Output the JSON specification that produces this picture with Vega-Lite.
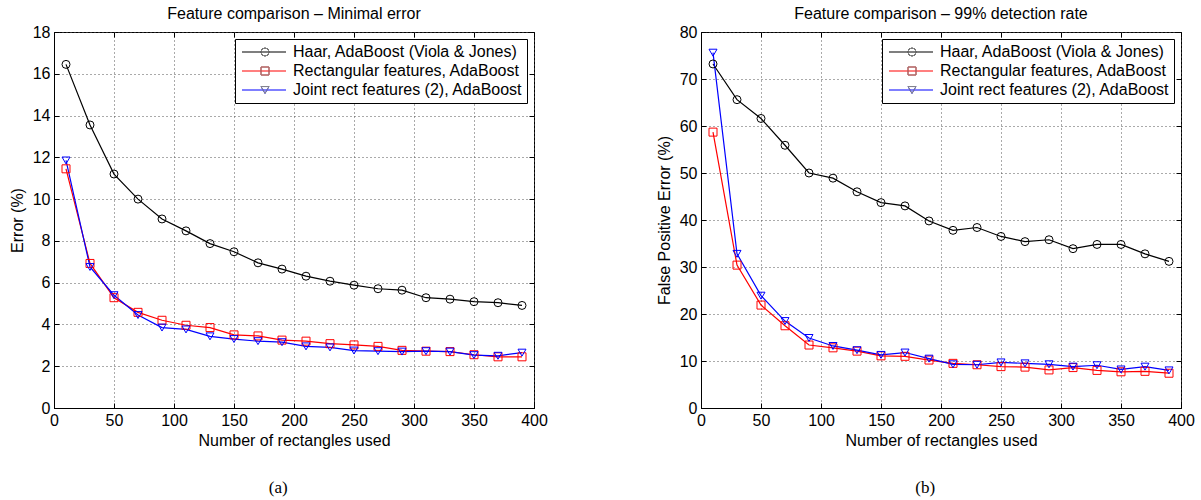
{
  "$schema": "https://vega.github.io/schema/vega-lite/v6.json",
  "padding": {"left": 8, "top": 5, "right": 5, "bottom": 5},
  "background": "white",
  "spacing": 107,
  "resolve": {"scale": {"stroke": "independent", "color": "independent", "shape": "independent"}},
  "datasets": {
    "minimal": [
      {"n": 10, "v": 16.45, "s": "Haar, AdaBoost (Viola & Jones)"},
      {"n": 30, "v": 13.55, "s": "Haar, AdaBoost (Viola & Jones)"},
      {"n": 50, "v": 11.2, "s": "Haar, AdaBoost (Viola & Jones)"},
      {"n": 70, "v": 10.0, "s": "Haar, AdaBoost (Viola & Jones)"},
      {"n": 90, "v": 9.05, "s": "Haar, AdaBoost (Viola & Jones)"},
      {"n": 110, "v": 8.48, "s": "Haar, AdaBoost (Viola & Jones)"},
      {"n": 130, "v": 7.87, "s": "Haar, AdaBoost (Viola & Jones)"},
      {"n": 150, "v": 7.48, "s": "Haar, AdaBoost (Viola & Jones)"},
      {"n": 170, "v": 6.95, "s": "Haar, AdaBoost (Viola & Jones)"},
      {"n": 190, "v": 6.65, "s": "Haar, AdaBoost (Viola & Jones)"},
      {"n": 210, "v": 6.31, "s": "Haar, AdaBoost (Viola & Jones)"},
      {"n": 230, "v": 6.07, "s": "Haar, AdaBoost (Viola & Jones)"},
      {"n": 250, "v": 5.88, "s": "Haar, AdaBoost (Viola & Jones)"},
      {"n": 270, "v": 5.71, "s": "Haar, AdaBoost (Viola & Jones)"},
      {"n": 290, "v": 5.64, "s": "Haar, AdaBoost (Viola & Jones)"},
      {"n": 310, "v": 5.28, "s": "Haar, AdaBoost (Viola & Jones)"},
      {"n": 330, "v": 5.21, "s": "Haar, AdaBoost (Viola & Jones)"},
      {"n": 350, "v": 5.09, "s": "Haar, AdaBoost (Viola & Jones)"},
      {"n": 370, "v": 5.04, "s": "Haar, AdaBoost (Viola & Jones)"},
      {"n": 390, "v": 4.91, "s": "Haar, AdaBoost (Viola & Jones)"},
      {"n": 10, "v": 11.45, "s": "Rectangular features, AdaBoost"},
      {"n": 30, "v": 6.92, "s": "Rectangular features, AdaBoost"},
      {"n": 50, "v": 5.28, "s": "Rectangular features, AdaBoost"},
      {"n": 70, "v": 4.58, "s": "Rectangular features, AdaBoost"},
      {"n": 90, "v": 4.2, "s": "Rectangular features, AdaBoost"},
      {"n": 110, "v": 3.96, "s": "Rectangular features, AdaBoost"},
      {"n": 130, "v": 3.85, "s": "Rectangular features, AdaBoost"},
      {"n": 150, "v": 3.5, "s": "Rectangular features, AdaBoost"},
      {"n": 170, "v": 3.45, "s": "Rectangular features, AdaBoost"},
      {"n": 190, "v": 3.25, "s": "Rectangular features, AdaBoost"},
      {"n": 210, "v": 3.2, "s": "Rectangular features, AdaBoost"},
      {"n": 230, "v": 3.08, "s": "Rectangular features, AdaBoost"},
      {"n": 250, "v": 3.02, "s": "Rectangular features, AdaBoost"},
      {"n": 270, "v": 2.95, "s": "Rectangular features, AdaBoost"},
      {"n": 290, "v": 2.76, "s": "Rectangular features, AdaBoost"},
      {"n": 310, "v": 2.72, "s": "Rectangular features, AdaBoost"},
      {"n": 330, "v": 2.7, "s": "Rectangular features, AdaBoost"},
      {"n": 350, "v": 2.55, "s": "Rectangular features, AdaBoost"},
      {"n": 370, "v": 2.45, "s": "Rectangular features, AdaBoost"},
      {"n": 390, "v": 2.45, "s": "Rectangular features, AdaBoost"},
      {"n": 10, "v": 11.85, "s": "Joint rect features (2), AdaBoost"},
      {"n": 30, "v": 6.75, "s": "Joint rect features (2), AdaBoost"},
      {"n": 50, "v": 5.4, "s": "Joint rect features (2), AdaBoost"},
      {"n": 70, "v": 4.45, "s": "Joint rect features (2), AdaBoost"},
      {"n": 90, "v": 3.85, "s": "Joint rect features (2), AdaBoost"},
      {"n": 110, "v": 3.76, "s": "Joint rect features (2), AdaBoost"},
      {"n": 130, "v": 3.43, "s": "Joint rect features (2), AdaBoost"},
      {"n": 150, "v": 3.3, "s": "Joint rect features (2), AdaBoost"},
      {"n": 170, "v": 3.2, "s": "Joint rect features (2), AdaBoost"},
      {"n": 190, "v": 3.15, "s": "Joint rect features (2), AdaBoost"},
      {"n": 210, "v": 2.95, "s": "Joint rect features (2), AdaBoost"},
      {"n": 230, "v": 2.9, "s": "Joint rect features (2), AdaBoost"},
      {"n": 250, "v": 2.75, "s": "Joint rect features (2), AdaBoost"},
      {"n": 270, "v": 2.72, "s": "Joint rect features (2), AdaBoost"},
      {"n": 290, "v": 2.7, "s": "Joint rect features (2), AdaBoost"},
      {"n": 310, "v": 2.72, "s": "Joint rect features (2), AdaBoost"},
      {"n": 330, "v": 2.7, "s": "Joint rect features (2), AdaBoost"},
      {"n": 350, "v": 2.53, "s": "Joint rect features (2), AdaBoost"},
      {"n": 370, "v": 2.5, "s": "Joint rect features (2), AdaBoost"},
      {"n": 390, "v": 2.65, "s": "Joint rect features (2), AdaBoost"}
    ],
    "detection": [
      {"n": 10, "v": 73.2, "s": "Haar, AdaBoost (Viola & Jones)"},
      {"n": 30, "v": 65.6, "s": "Haar, AdaBoost (Viola & Jones)"},
      {"n": 50, "v": 61.6, "s": "Haar, AdaBoost (Viola & Jones)"},
      {"n": 70, "v": 55.9, "s": "Haar, AdaBoost (Viola & Jones)"},
      {"n": 90, "v": 50.0, "s": "Haar, AdaBoost (Viola & Jones)"},
      {"n": 110, "v": 48.9, "s": "Haar, AdaBoost (Viola & Jones)"},
      {"n": 130, "v": 46.0, "s": "Haar, AdaBoost (Viola & Jones)"},
      {"n": 150, "v": 43.7, "s": "Haar, AdaBoost (Viola & Jones)"},
      {"n": 170, "v": 43.0, "s": "Haar, AdaBoost (Viola & Jones)"},
      {"n": 190, "v": 39.8, "s": "Haar, AdaBoost (Viola & Jones)"},
      {"n": 210, "v": 37.8, "s": "Haar, AdaBoost (Viola & Jones)"},
      {"n": 230, "v": 38.4, "s": "Haar, AdaBoost (Viola & Jones)"},
      {"n": 250, "v": 36.5, "s": "Haar, AdaBoost (Viola & Jones)"},
      {"n": 270, "v": 35.4, "s": "Haar, AdaBoost (Viola & Jones)"},
      {"n": 290, "v": 35.8, "s": "Haar, AdaBoost (Viola & Jones)"},
      {"n": 310, "v": 33.9, "s": "Haar, AdaBoost (Viola & Jones)"},
      {"n": 330, "v": 34.8, "s": "Haar, AdaBoost (Viola & Jones)"},
      {"n": 350, "v": 34.8, "s": "Haar, AdaBoost (Viola & Jones)"},
      {"n": 370, "v": 32.8, "s": "Haar, AdaBoost (Viola & Jones)"},
      {"n": 390, "v": 31.2, "s": "Haar, AdaBoost (Viola & Jones)"},
      {"n": 10, "v": 58.7, "s": "Rectangular features, AdaBoost"},
      {"n": 30, "v": 30.4, "s": "Rectangular features, AdaBoost"},
      {"n": 50, "v": 21.9, "s": "Rectangular features, AdaBoost"},
      {"n": 70, "v": 17.5, "s": "Rectangular features, AdaBoost"},
      {"n": 90, "v": 13.4, "s": "Rectangular features, AdaBoost"},
      {"n": 110, "v": 12.8, "s": "Rectangular features, AdaBoost"},
      {"n": 130, "v": 12.1, "s": "Rectangular features, AdaBoost"},
      {"n": 150, "v": 11.1, "s": "Rectangular features, AdaBoost"},
      {"n": 170, "v": 11.0, "s": "Rectangular features, AdaBoost"},
      {"n": 190, "v": 10.2, "s": "Rectangular features, AdaBoost"},
      {"n": 210, "v": 9.5, "s": "Rectangular features, AdaBoost"},
      {"n": 230, "v": 9.2, "s": "Rectangular features, AdaBoost"},
      {"n": 250, "v": 8.8, "s": "Rectangular features, AdaBoost"},
      {"n": 270, "v": 8.7, "s": "Rectangular features, AdaBoost"},
      {"n": 290, "v": 8.1, "s": "Rectangular features, AdaBoost"},
      {"n": 310, "v": 8.6, "s": "Rectangular features, AdaBoost"},
      {"n": 330, "v": 8.0, "s": "Rectangular features, AdaBoost"},
      {"n": 350, "v": 7.7, "s": "Rectangular features, AdaBoost"},
      {"n": 370, "v": 7.8, "s": "Rectangular features, AdaBoost"},
      {"n": 390, "v": 7.4, "s": "Rectangular features, AdaBoost"},
      {"n": 10, "v": 75.6, "s": "Joint rect features (2), AdaBoost"},
      {"n": 30, "v": 32.8, "s": "Joint rect features (2), AdaBoost"},
      {"n": 50, "v": 23.9, "s": "Joint rect features (2), AdaBoost"},
      {"n": 70, "v": 18.5, "s": "Joint rect features (2), AdaBoost"},
      {"n": 90, "v": 14.9, "s": "Joint rect features (2), AdaBoost"},
      {"n": 110, "v": 13.2, "s": "Joint rect features (2), AdaBoost"},
      {"n": 130, "v": 12.3, "s": "Joint rect features (2), AdaBoost"},
      {"n": 150, "v": 11.3, "s": "Joint rect features (2), AdaBoost"},
      {"n": 170, "v": 11.8, "s": "Joint rect features (2), AdaBoost"},
      {"n": 190, "v": 10.5, "s": "Joint rect features (2), AdaBoost"},
      {"n": 210, "v": 9.3, "s": "Joint rect features (2), AdaBoost"},
      {"n": 230, "v": 9.2, "s": "Joint rect features (2), AdaBoost"},
      {"n": 250, "v": 9.7, "s": "Joint rect features (2), AdaBoost"},
      {"n": 270, "v": 9.5, "s": "Joint rect features (2), AdaBoost"},
      {"n": 290, "v": 9.3, "s": "Joint rect features (2), AdaBoost"},
      {"n": 310, "v": 8.8, "s": "Joint rect features (2), AdaBoost"},
      {"n": 330, "v": 9.1, "s": "Joint rect features (2), AdaBoost"},
      {"n": 350, "v": 8.2, "s": "Joint rect features (2), AdaBoost"},
      {"n": 370, "v": 8.8, "s": "Joint rect features (2), AdaBoost"},
      {"n": 390, "v": 8.0, "s": "Joint rect features (2), AdaBoost"}
    ]
  },
  "config": {
    "font": "Liberation Sans",
    "view": {"stroke": "#000000", "strokeWidth": 1},
    "axis": {
      "labelFont": "Liberation Sans", "labelFontSize": 16, "labelColor": "#000000",
      "titleFont": "Liberation Sans", "titleFontSize": 16, "titleFontWeight": "normal", "titleColor": "#000000",
      "domainColor": "#000000", "tickColor": "#000000", "tickSize": -5,
      "gridColor": "#555555", "gridDash": [1, 3], "gridOpacity": 1, "gridWidth": 1,
      "labelFlush": false, "labelOverlap": false
    },
    "axisX": {"labelPadding": 9, "titlePadding": 4},
    "axisY": {"labelPadding": 9, "titlePadding": 7},
    "title": {"font": "Liberation Sans", "fontSize": 16, "fontWeight": "normal", "color": "#000000"},
    "legend": {
      "padding": 4, "cornerRadius": 0,
      "labelFont": "Liberation Sans", "labelFontSize": 16, "labelColor": "#000000",
      "labelLimit": 400, "labelOffset": 6, "clipHeight": 18, "rowPadding": 1
    }
  },
  "hconcat": [
    {
      "title": {"text": "(a)", "orient": "bottom", "anchor": "middle", "font": "Liberation Serif", "fontSize": 17, "fontWeight": "normal", "offset": 31, "frame": "bounds"},
      "resolve": {"scale": {"stroke": "independent", "color": "independent", "shape": "independent"}},
      "vconcat": [
        {
          "width": 480, "height": 376,
          "title": {"text": "Feature comparison – Minimal error", "frame": "group", "anchor": "middle", "offset": 2},
          "data": {"name": "minimal"},
          "layer": [
            {
              "mark": {"type": "line", "strokeWidth": 1.2},
              "encoding": {
                "x": {"field": "n", "type": "quantitative", "scale": {"domain": [0, 400], "nice": false},
                      "axis": {"orient": "bottom", "values": [0, 50, 100, 150, 200, 250, 300, 350, 400], "title": "Number of rectangles used", "grid": true}},
                "y": {"field": "v", "type": "quantitative", "scale": {"domain": [0, 18], "nice": false},
                      "axis": {"orient": "left", "values": [0, 2, 4, 6, 8, 10, 12, 14, 16, 18], "title": "Error (%)", "grid": true}},
                "stroke": {"field": "s", "type": "nominal",
                  "scale": {"domain": ["Haar, AdaBoost (Viola & Jones)", "Rectangular features, AdaBoost", "Joint rect features (2), AdaBoost"], "range": ["#000000", "#ff0000", "#0000ff"]},
                  "legend": {"title": null, "orient": "top-right", "offset": 7, "symbolType": "stroke", "symbolSize": 1936, "symbolStrokeWidth": 1.2,
                             "strokeColor": "#000000", "fillColor": "#ffffff", "symbolOffset": 2, "zindex": 1,
                             "labelExpr": "datum.label + '\u00a0\u00a0'"}
                }
              }
            },
            {
              "mark": {"type": "point", "filled": false, "strokeWidth": 1, "opacity": 1, "size": 64},
              "encoding": {
                "x": {"field": "n", "type": "quantitative",
                      "axis": {"orient": "top", "values": [0, 50, 100, 150, 200, 250, 300, 350, 400], "labels": false, "title": null, "grid": false, "domain": false}},
                "y": {"field": "v", "type": "quantitative",
                      "axis": {"orient": "right", "values": [0, 2, 4, 6, 8, 10, 12, 14, 16, 18], "labels": false, "title": null, "grid": false, "domain": false}},
                "color": {"field": "s", "type": "nominal",
                  "scale": {"domain": ["Haar, AdaBoost (Viola & Jones)", "Rectangular features, AdaBoost", "Joint rect features (2), AdaBoost"], "range": ["#000000", "#ff0000", "#0000ff"]},
                  "legend": {"title": null, "orient": "none", "legendX": 199, "legendY": 7, "labelExpr": "''", "symbolSize": 64, "symbolStrokeWidth": 1,
                             "strokeColor": "transparent", "fillColor": "transparent", "zindex": 2}},
                "shape": {"field": "s", "type": "nominal",
                  "scale": {"domain": ["Haar, AdaBoost (Viola & Jones)", "Rectangular features, AdaBoost", "Joint rect features (2), AdaBoost"], "range": ["circle", "square", "triangle-down"]},
                  "legend": {"title": null, "orient": "none", "legendX": 199, "legendY": 7, "labelExpr": "''", "symbolSize": 64, "symbolStrokeWidth": 1,
                             "strokeColor": "transparent", "fillColor": "transparent", "zindex": 2}}
              }
            }
          ],
          "resolve": {"axis": {"x": "independent", "y": "independent"}}
        }
      ]
    },
    {
      "title": {"text": "(b)", "orient": "bottom", "anchor": "middle", "font": "Liberation Serif", "fontSize": 17, "fontWeight": "normal", "offset": 31, "frame": "bounds"},
      "resolve": {"scale": {"stroke": "independent", "color": "independent", "shape": "independent"}},
      "vconcat": [
        {
          "width": 480, "height": 376,
          "title": {"text": "Feature comparison – 99% detection rate", "frame": "group", "anchor": "middle", "offset": 2},
          "data": {"name": "detection"},
          "layer": [
            {
              "mark": {"type": "line", "strokeWidth": 1.2},
              "encoding": {
                "x": {"field": "n", "type": "quantitative", "scale": {"domain": [0, 400], "nice": false},
                      "axis": {"orient": "bottom", "values": [0, 50, 100, 150, 200, 250, 300, 350, 400], "title": "Number of rectangles used", "grid": true}},
                "y": {"field": "v", "type": "quantitative", "scale": {"domain": [0, 80], "nice": false},
                      "axis": {"orient": "left", "values": [0, 10, 20, 30, 40, 50, 60, 70, 80], "title": "False Positive Error (%)", "grid": true}},
                "stroke": {"field": "s", "type": "nominal",
                  "scale": {"domain": ["Haar, AdaBoost (Viola & Jones)", "Rectangular features, AdaBoost", "Joint rect features (2), AdaBoost"], "range": ["#000000", "#ff0000", "#0000ff"]},
                  "legend": {"title": null, "orient": "top-right", "offset": 7, "symbolType": "stroke", "symbolSize": 1936, "symbolStrokeWidth": 1.2,
                             "strokeColor": "#000000", "fillColor": "#ffffff", "symbolOffset": 2, "zindex": 1,
                             "labelExpr": "datum.label + '\u00a0\u00a0'"}
                }
              }
            },
            {
              "mark": {"type": "point", "filled": false, "strokeWidth": 1, "opacity": 1, "size": 64},
              "encoding": {
                "x": {"field": "n", "type": "quantitative",
                      "axis": {"orient": "top", "values": [0, 50, 100, 150, 200, 250, 300, 350, 400], "labels": false, "title": null, "grid": false, "domain": false}},
                "y": {"field": "v", "type": "quantitative",
                      "axis": {"orient": "right", "values": [0, 10, 20, 30, 40, 50, 60, 70, 80], "labels": false, "title": null, "grid": false, "domain": false}},
                "color": {"field": "s", "type": "nominal",
                  "scale": {"domain": ["Haar, AdaBoost (Viola & Jones)", "Rectangular features, AdaBoost", "Joint rect features (2), AdaBoost"], "range": ["#000000", "#ff0000", "#0000ff"]},
                  "legend": {"title": null, "orient": "none", "legendX": 199, "legendY": 7, "labelExpr": "''", "symbolSize": 64, "symbolStrokeWidth": 1,
                             "strokeColor": "transparent", "fillColor": "transparent", "zindex": 2}},
                "shape": {"field": "s", "type": "nominal",
                  "scale": {"domain": ["Haar, AdaBoost (Viola & Jones)", "Rectangular features, AdaBoost", "Joint rect features (2), AdaBoost"], "range": ["circle", "square", "triangle-down"]},
                  "legend": {"title": null, "orient": "none", "legendX": 199, "legendY": 7, "labelExpr": "''", "symbolSize": 64, "symbolStrokeWidth": 1,
                             "strokeColor": "transparent", "fillColor": "transparent", "zindex": 2}}
              }
            }
          ],
          "resolve": {"axis": {"x": "independent", "y": "independent"}}
        }
      ]
    }
  ]
}
